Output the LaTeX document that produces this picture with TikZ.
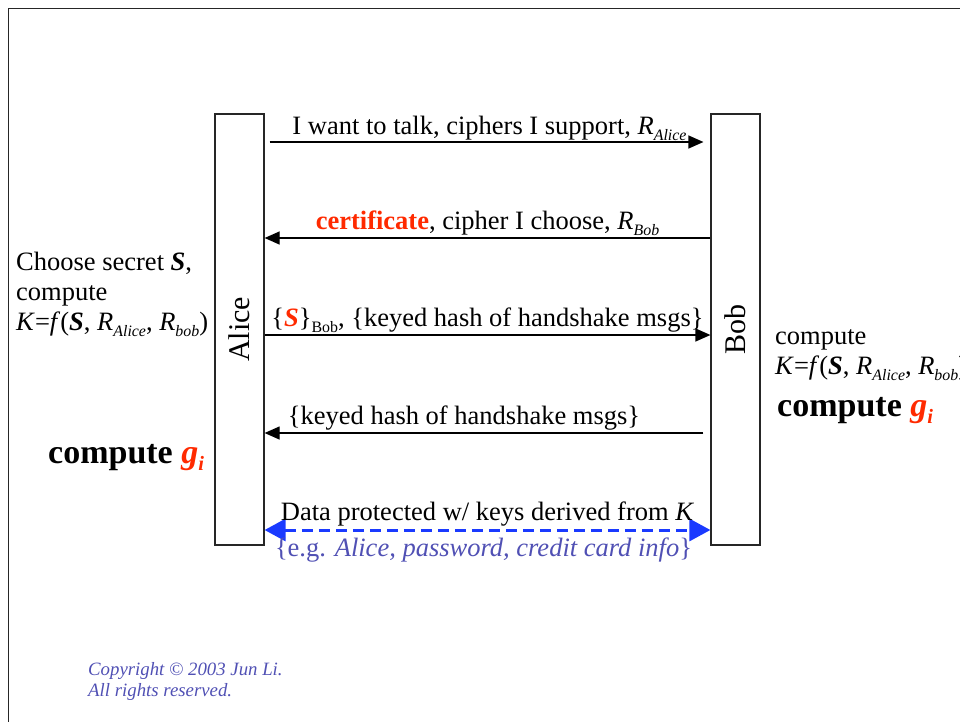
\documentclass[tikz,border=0pt]{standalone}
\usepackage{fontspec}
\setmainfont{Liberation Serif}
\usetikzlibrary{arrows.meta, positioning}
\definecolor{certred}{HTML}{FF2A00}
\definecolor{datablue}{HTML}{1A3AFF}
\definecolor{notepurple}{HTML}{5050B4}
\newcommand{\lowsub}[1]{\raisebox{-0.5ex}{\scalebox{0.6}{#1}}}
\tikzset{
  party/.style={rectangle, draw=black!85, line width=1.2pt,
                minimum width=49pt, minimum height=431pt, inner sep=0pt,
                font=\fontsize{30}{36}\selectfont},
  msg/.style={-{Triangle[length=15pt,width=13pt]}, line width=1.2pt},
  lbl/.style={font=\fontsize{26.5}{30}\selectfont, inner sep=2pt},
  bigbold/.style={font=\fontsize{34}{40}\selectfont\bfseries},
  data/.style={{Triangle[length=21pt,width=22pt]}-{Triangle[length=21pt,width=22pt]},
               datablue, line width=3pt, dash pattern=on 11pt off 6pt}
}

\begin{document}
\begin{tikzpicture}[x=1pt, y=-1pt]
\useasboundingbox (0,0) rectangle (960,722);

% slide frame
\draw[black!85, line width=1.5pt] (960,8.5) -| (8.5,722);

% the two parties
\node[party] (alice) at (239.5,329.5) {\rotatebox{90}{Alice}};
\node[party] (bob) at (735.5,329.5) {\rotatebox{90}{Bob}};

% --- Messages ---
% Alice -> Bob: hello
\draw[msg] ([xshift=5pt,yshift=187.5pt]alice.east) -- ([xshift=-7pt,yshift=187.5pt]bob.west)
  node[lbl, midway, above, inner sep=1pt, xshift=3pt] {I want to talk, ciphers I support, \textit{R}\lowsub{\textit{Alice}}};

% Bob -> Alice: certificate
\draw[msg] ([yshift=91.5pt]bob.west) -- ([yshift=91.5pt]alice.east)
  node[lbl, midway, above] {\textcolor{certred}{\textbf{certificate}}, cipher I choose, \textit{R}\lowsub{\textit{Bob}}};

% Alice -> Bob: secret
\draw[msg] ([yshift=-5.5pt]alice.east) -- ([yshift=-5.5pt]bob.west)
  node[lbl, midway, above] {\{\textcolor{certred}{\textbf{\textit{S}}}\}\lowsub{Bob}, \{keyed hash of handshake msgs\}};

% Bob -> Alice: hash
\draw[msg] ([xshift=-7pt,yshift=-103.5pt]bob.west) -- ([yshift=-103.5pt]alice.east)
  node[lbl, midway, above, xshift=-20pt] {\{keyed hash of handshake msgs\}};

% Alice <-> Bob: data
\draw[data] ([yshift=-200.5pt]alice.east) -- ([yshift=-200.5pt]bob.west)
  node[lbl, midway, above, black] {Data protected w/ keys derived from \textit{K}}
  node[lbl, midway, below=5pt, notepurple, inner sep=1pt, xshift=-4pt] {\{e.g. \textit{Alice, password, credit card info}\}};

% --- Notes ---
\node[lbl, align=left, anchor=north west, inner sep=0pt] (alicenote) at (16,252)
  {Choose secret \textbf{\textit{S}},\\compute\\\textit{K}=\textit{f}(\textbf{\textit{S}}, \textit{R}\lowsub{\textit{Alice}}, \textit{R}\lowsub{\textit{bob}})};
\node[bigbold, anchor=base west, inner sep=0pt] (alicegi) at (48,463)
  {compute \textcolor{certred}{\textit{g}\lowsub{\textit{i}}}};

\node[lbl, align=left, anchor=north west, inner sep=0pt] (bobnote) at (775,329)
  {compute\\\textit{K}=\textit{f}(\textbf{\textit{S}}, \textit{R}\lowsub{\textit{Alice}}, \textit{R}\lowsub{\textit{bob}})};
\node[bigbold, anchor=base west, inner sep=0pt] (bobgi) at (777,416)
  {compute \textcolor{certred}{\textit{g}\lowsub{\textit{i}}}};

% copyright
\node[align=left, anchor=north west, inner sep=0pt, text=notepurple,
      font=\fontsize{18.8}{21}\selectfont\itshape] (copy) at (88,662)
  {Copyright \textcopyright{} 2003 Jun Li.\\All rights reserved.};

\end{tikzpicture}
\end{document}
